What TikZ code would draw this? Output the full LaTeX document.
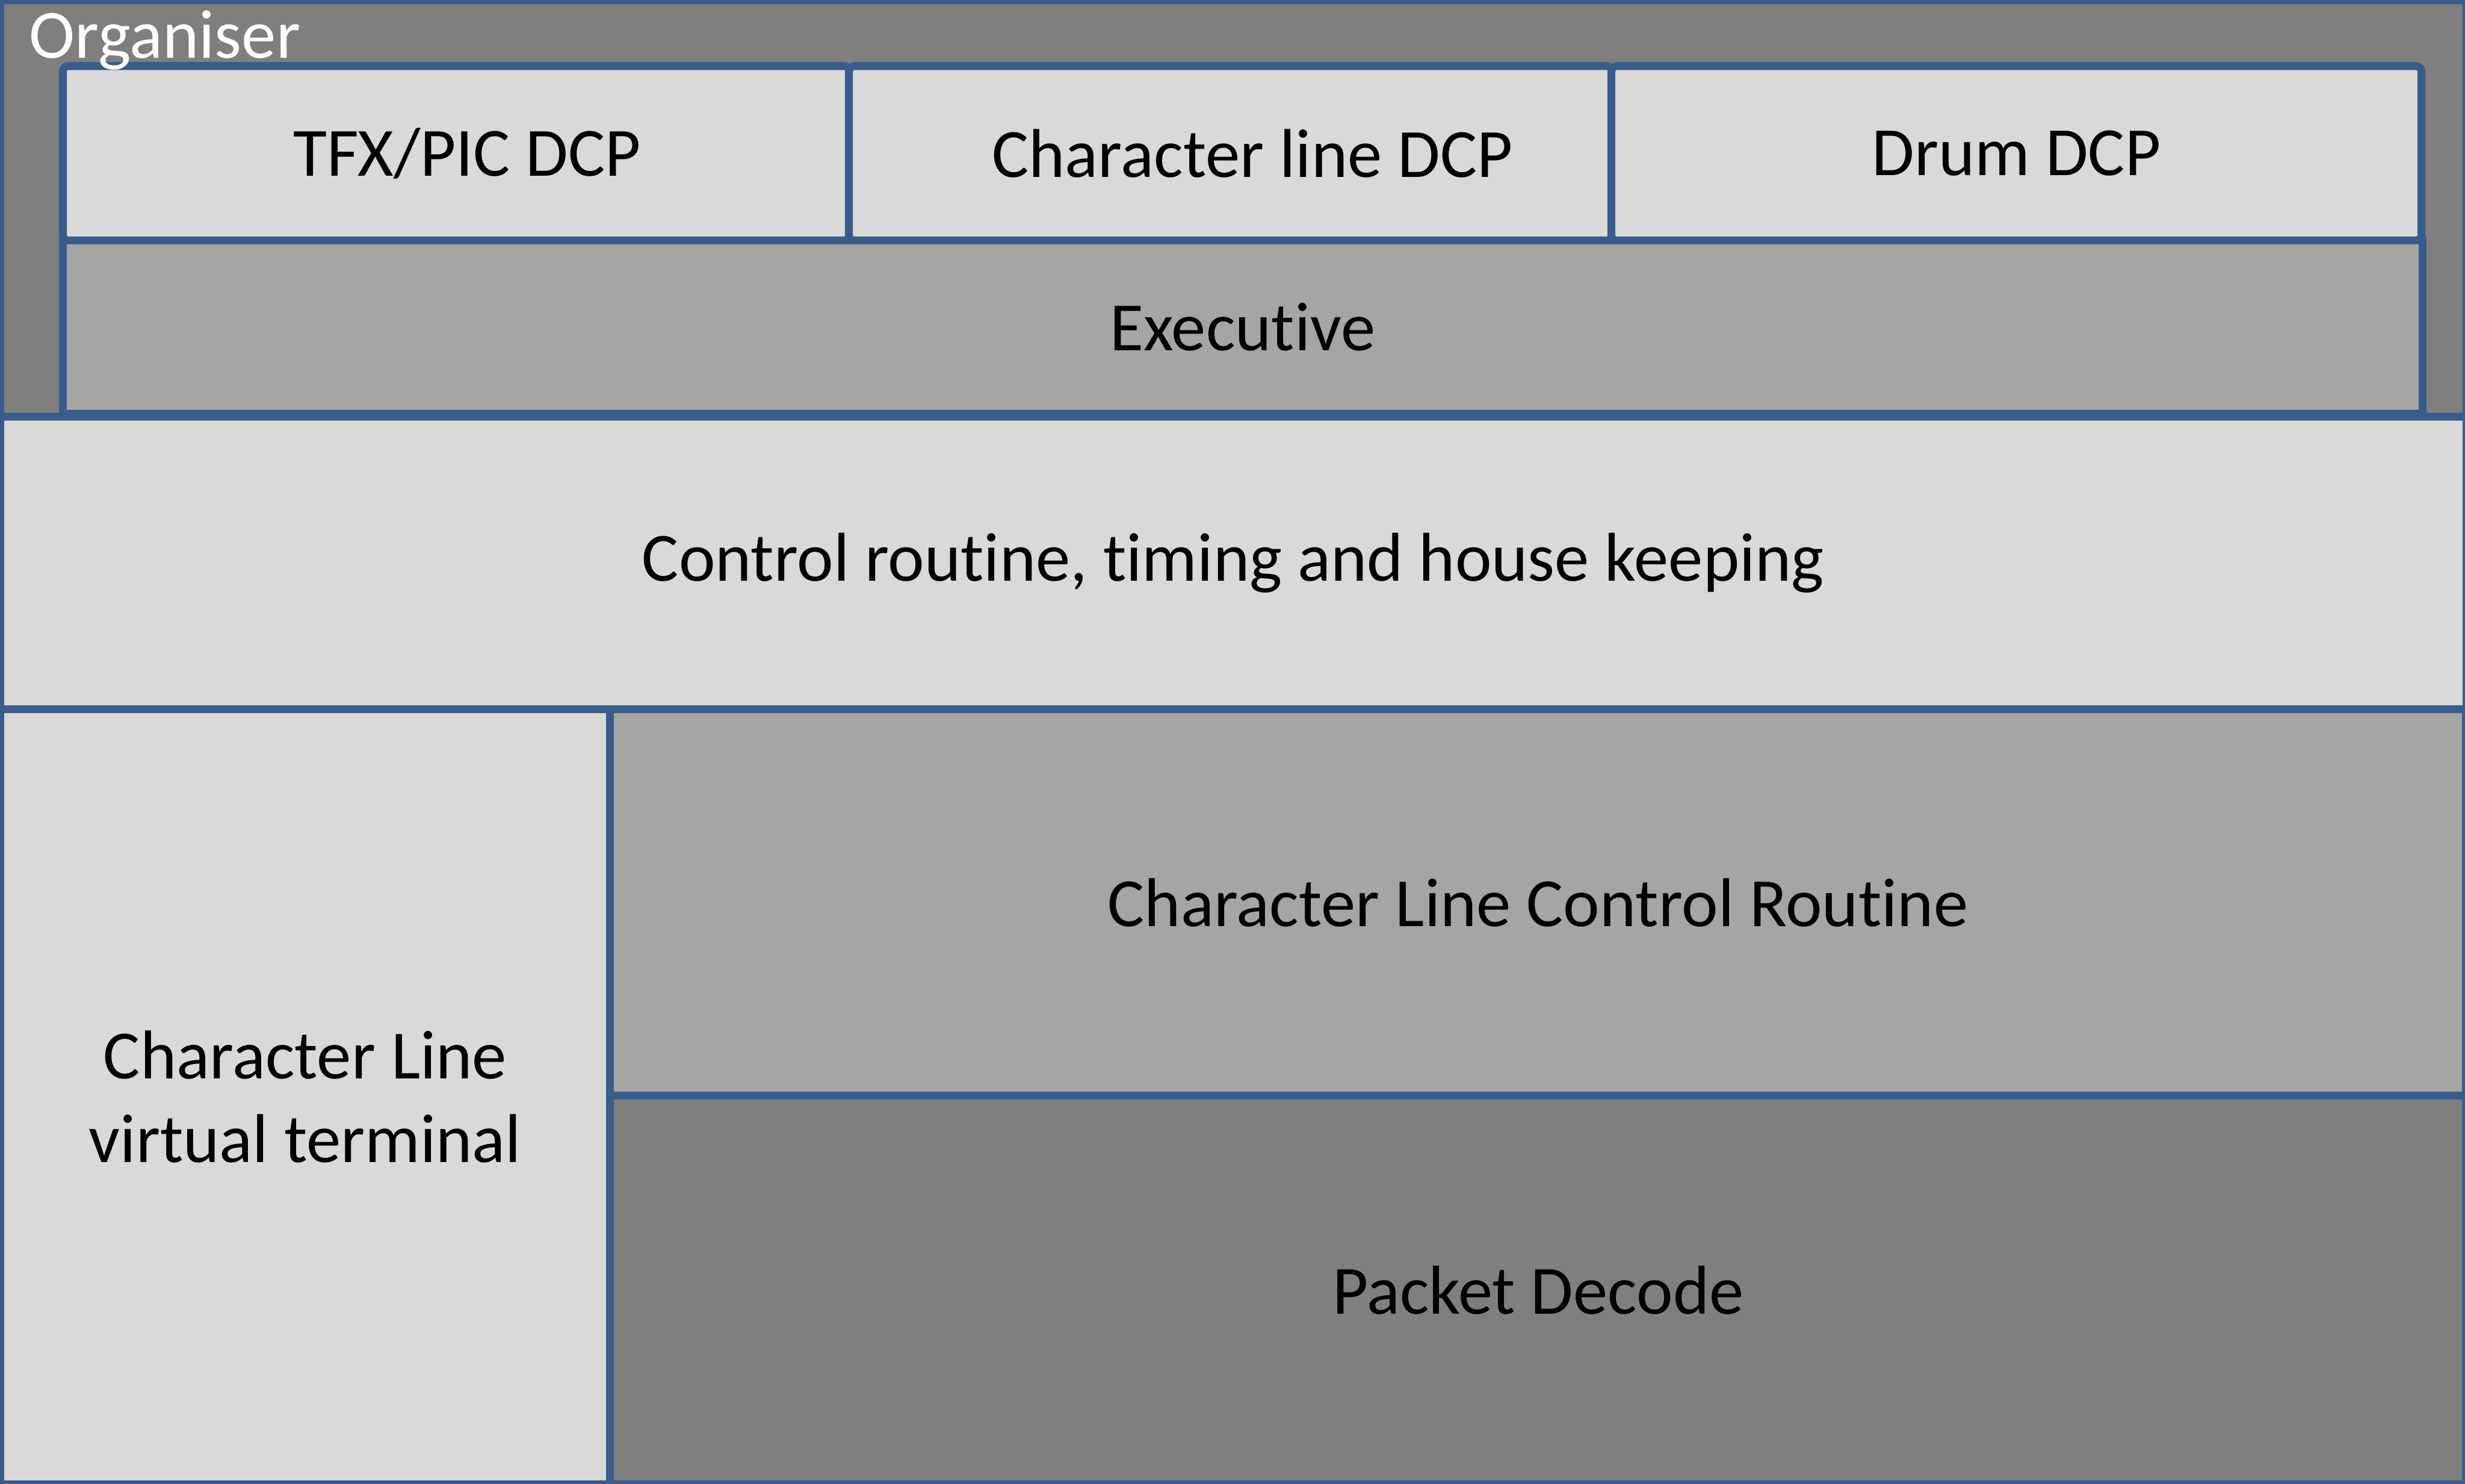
\documentclass[tikz,border=0pt]{standalone}
\usepackage{fontspec}
\setmainfont{Carlito}[Ligatures={NoCommon}]
\definecolor{edgeblue}{HTML}{385D8A}
\definecolor{gdark}{HTML}{7F7F7F}
\definecolor{gmid}{HTML}{A5A5A5}
\definecolor{glight}{HTML}{D9D9D9}
\begin{document}
\begin{tikzpicture}[x=0.01cm,y=-0.01cm,
  txt/.style={inner sep=0pt, outer sep=0pt, align=center, text=black,
    font=\fontsize{12.5}{15.1}\selectfont},
  blk/.style={txt, draw=edgeblue, line width=0.05cm, rectangle, anchor=north west},
  light/.style={blk, fill=glight},
  mid/.style={blk, fill=gmid},
  dark/.style={blk, fill=gdark}]
\useasboundingbox (0,0) rectangle (1568,944);
\node[dark, minimum width=15.68cm, minimum height=2.65cm] (org) at (0,0) {};
\node[light, rounded corners=1pt, minimum width=5.00cm, minimum height=1.11cm] (tfx) at (40,42) {};
\node[txt] (tfxlbl) at ([xshift=0.07cm]tfx.center) {TFX/PIC DCP};
\node[light, rounded corners=1pt, minimum width=4.85cm, minimum height=1.11cm] (chdcp) at (540,42) {};
\node[txt] (chdcplbl) at ([xshift=0.14cm]chdcp.center) {Character line DCP};
\node[light, rounded corners=1pt, minimum width=5.15cm, minimum height=1.11cm] (drum) at (1025,42) {Drum DCP};
\node[mid, minimum width=15.00cm, minimum height=1.10cm] (exec) at (40,153) {Executive};
\node[anchor=base west, text=white, inner sep=0pt, font=\fontsize{12.5}{15}\selectfont] (orglbl) at (18,37) {Organiser};
\node[light, minimum width=15.68cm, minimum height=1.86cm] (ctrl) at (0,265) {\raisebox{-0.03cm}{Control routine, timing and house keeping}};
\node[light, minimum width=3.88cm, minimum height=4.93cm] (cvt) at (0,451) {Character Line\\virtual terminal};
\node[mid, minimum width=11.80cm, minimum height=2.46cm] (clcr) at (388,451) {Character Line Control Routine};
\node[dark, minimum width=11.80cm, minimum height=2.47cm] (pd) at (388,697) {Packet Decode};
\end{tikzpicture}
\end{document}
